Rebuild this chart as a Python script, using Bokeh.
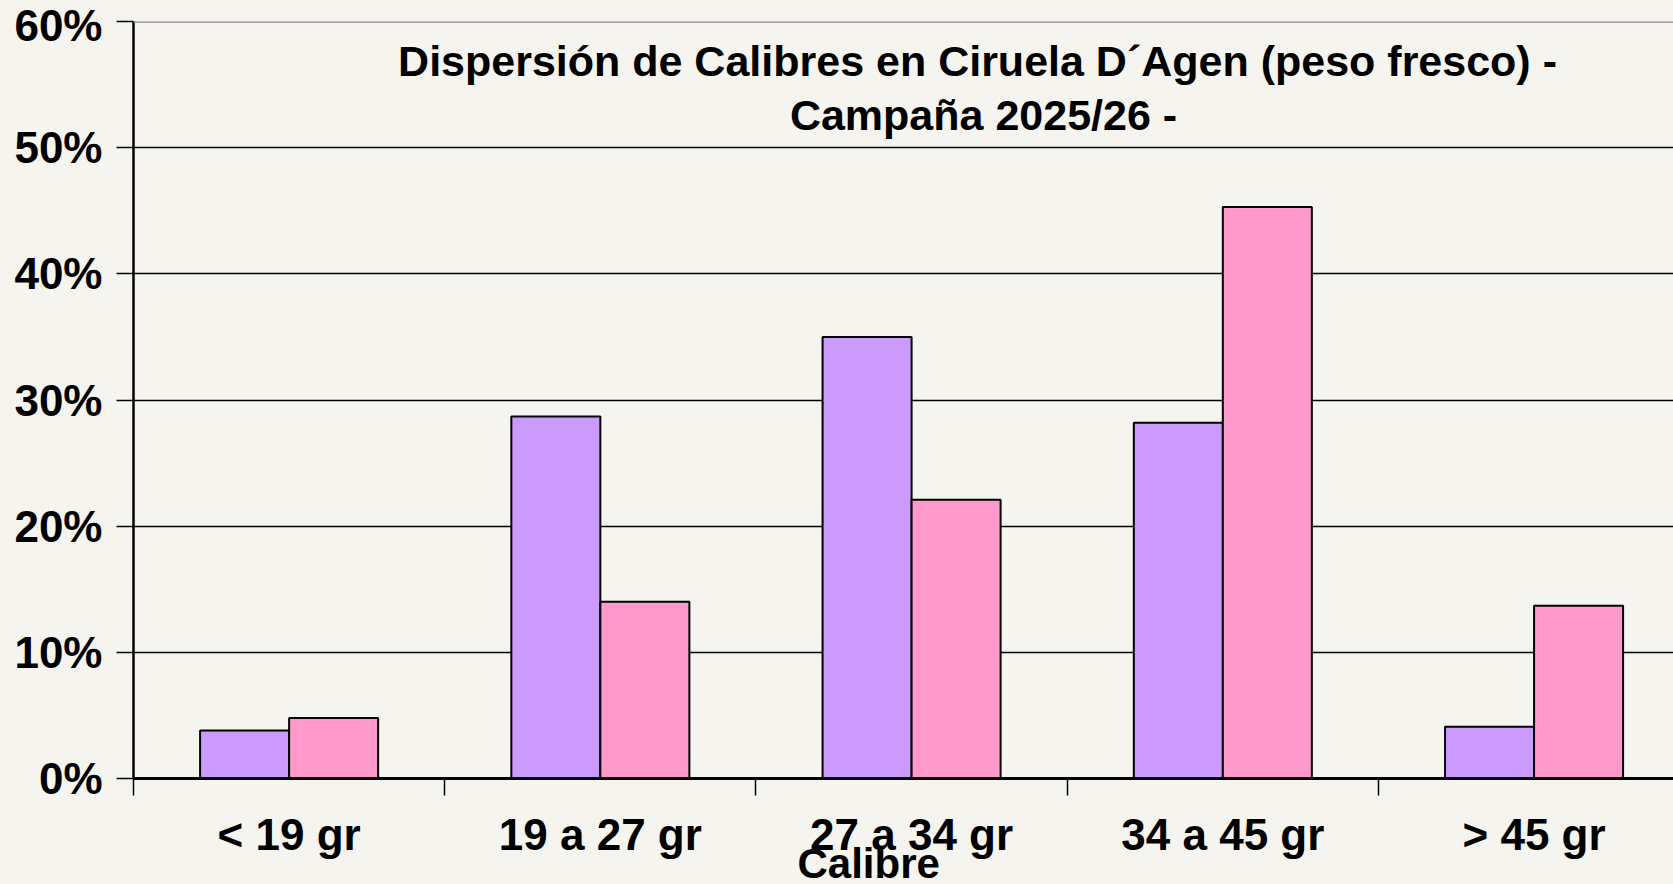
from bokeh.plotting import figure
from bokeh.models import (Range1d, FixedTicker, CustomJSTickFormatter, PrintfTickFormatter,
                          Span, Label, Title, ColumnDataSource)
from bokeh.embed import file_html
from bokeh.resources import INLINE

# ---- data ----
categories = ["< 19 gr", "19 a 27 gr", "27 a 34 gr", "34 a 45 gr", "> 45 gr"]
serie_1 = [3.8, 28.7, 35.0, 28.2, 4.1]     # lila
serie_2 = [4.8, 14.0, 22.1, 45.3, 13.7]    # rosa
y_ticks = [0, 10, 20, 30, 40, 50, 60]
title_line_1 = "Dispersión de Calibres  en Ciruela D´Agen (peso fresco) -"
title_line_2 = "Campaña 2025/26 -"
x_label = "Calibre"

BG = "#F5F4EF"
FONT = "Liberation Sans"

idx = list(range(len(categories)))
src = ColumnDataSource(dict(
    x1=[i + 0.5 - 0.143 for i in idx],
    x2=[i + 0.5 + 0.143 for i in idx],
    s1=serie_1, s2=serie_2, cat=categories))

p = figure(width=1673, height=884, output_backend="svg", toolbar_location=None,
           x_range=Range1d(0, 4.948), y_range=Range1d(y_ticks[0], y_ticks[-1]),
           title_location=None,
           min_border_left=133, min_border_right=0, min_border_top=21, min_border_bottom=106)
p.background_fill_color = BG
p.border_fill_color = BG
p.outline_line_color = None

p.vbar(x="x1", top="s1", width=0.286, source=src, fill_color="#CC99FF",
       line_color="black", line_width=2)
p.vbar(x="x2", top="s2", width=0.286, source=src, fill_color="#FF99CC",
       line_color="black", line_width=2)

# grid
p.xgrid.visible = False
p.ygrid.ticker = FixedTicker(ticks=y_ticks[1:-1])
p.ygrid.grid_line_color = "black"
p.ygrid.grid_line_width = 1.5
p.add_layout(Span(location=y_ticks[-1], dimension="width", line_color="#888888", line_width=2.5))

# x axis
xa = p.xaxis[0]
xa.ticker = FixedTicker(ticks=[i + 0.5 for i in idx], minor_ticks=idx)
xa.formatter = CustomJSTickFormatter(args=dict(labels=categories),
                                     code="return labels[Math.floor(tick)];")
xa.axis_line_width = 3
xa.axis_line_color = "black"
xa.major_tick_out = 0
xa.major_tick_in = 0
xa.minor_tick_out = 17
xa.minor_tick_in = 0
xa.minor_tick_line_color = "black"
xa.minor_tick_line_width = 1.5
xa.major_label_standoff = 14
xa.major_label_text_font = FONT
xa.major_label_text_font_style = "bold"
xa.major_label_text_font_size = "44px"
xa.major_label_text_color = "black"

# y axis
ya = p.yaxis[0]
ya.ticker = FixedTicker(ticks=y_ticks, minor_ticks=[])
ya.formatter = PrintfTickFormatter(format="%d%%")
ya.axis_line_width = 2.5
ya.axis_line_color = "black"
ya.major_tick_out = 17
ya.major_tick_in = 0
ya.major_tick_line_color = "black"
ya.major_tick_line_width = 1.5
ya.major_label_standoff = 14
ya.major_label_text_font = FONT
ya.major_label_text_font_style = "bold"
ya.major_label_text_font_size = "44px"
ya.major_label_text_color = "black"

# title inside the plot
for txt, yv in [(title_line_1, 56.85), (title_line_2, 52.6)]:
    p.add_layout(Label(x=2.731, y=yv, text=txt, text_align="center", text_baseline="middle",
                       text_font=FONT, text_font_style="bold", text_font_size="43px",
                       text_color="black"))

# axis title "Calibre" below the tick labels (overlapping them, as in the original)
p.add_layout(Title(text=x_label, align="left", offset=664, standoff=-50,
                   text_font=FONT, text_font_style="bold", text_font_size="42px",
                   text_color="black", text_line_height=0.9), "below")

html = file_html(p, INLINE)
html = html.replace("<head>", "<head><style>body{background:%s;}</style>" % BG, 1)
open("out.html", "w").write(html)
